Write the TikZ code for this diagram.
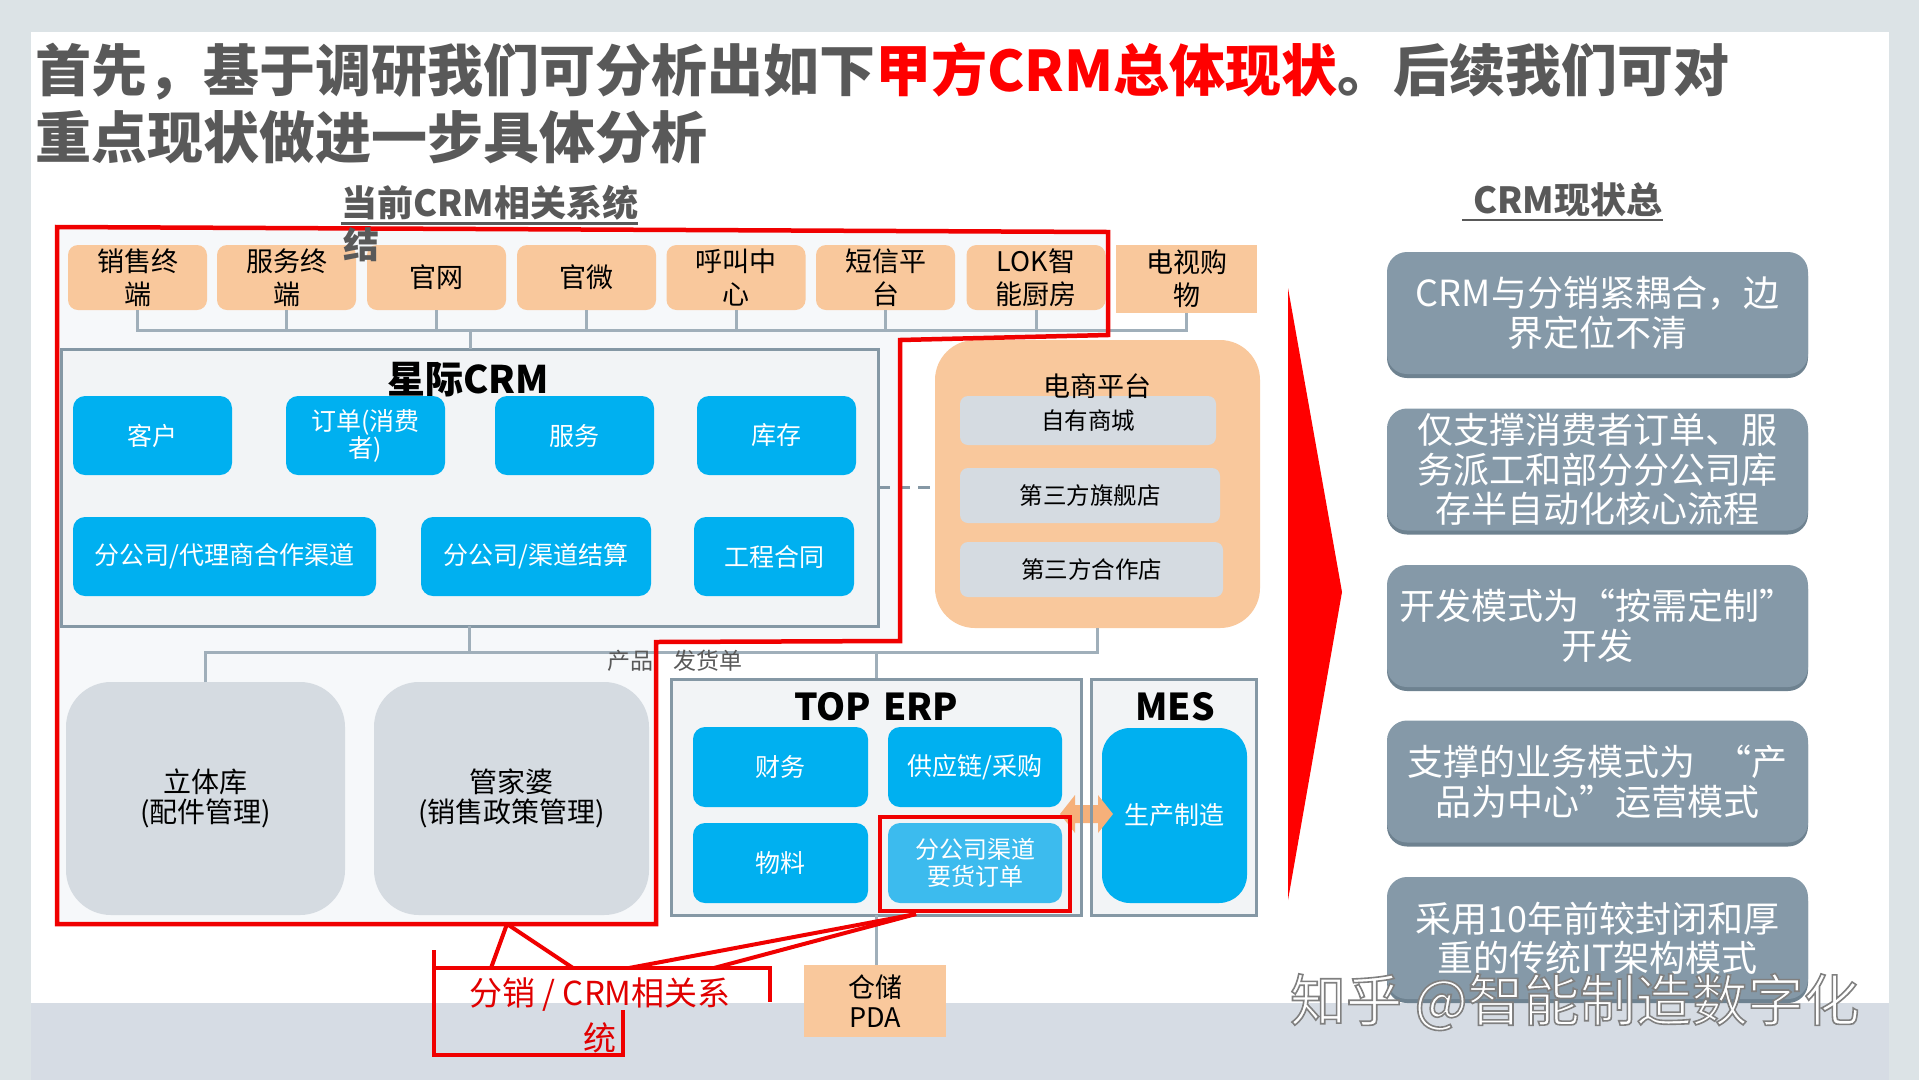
\documentclass[tikz,border=0pt]{standalone}
\usepackage{fontspec}
\setmainfont{Noto Sans CJK SC}
\usetikzlibrary{calc,shadows}
\definecolor{bgside}{HTML}{DCE3E6}
\definecolor{band}{HTML}{D6DCE4}
\definecolor{areafill}{HTML}{F6F8FA}
\definecolor{titlegray}{HTML}{595959}
\definecolor{redc}{HTML}{F00000}
\definecolor{brightred}{HTML}{FF0000}
\definecolor{peach}{HTML}{F9C89C}
\definecolor{skyb}{HTML}{00B0F0}
\definecolor{skyl}{HTML}{3CBBEE}
\definecolor{panel}{HTML}{F2F4F6}
\definecolor{panelb}{HTML}{8598A5}
\definecolor{conn}{HTML}{A0AFBA}
\definecolor{lgray}{HTML}{D5DBE1}
\definecolor{slate}{HTML}{8599A8}
\definecolor{slated}{HTML}{6E8290}
\definecolor{arrowor}{HTML}{F6B07A}
\definecolor{lblred}{HTML}{E00000}
\newcommand\fsz[2]{\fontsize{#1}{#2}\selectfont}
\begin{document}
\begin{tikzpicture}[x=1pt,y=-1pt,
  every node/.style={inner sep=0pt, outer sep=0pt, align=center},
  topbox/.style={fill=peach, rounded corners=10pt, minimum width=139pt, minimum height=65pt, font=\fsz{27}{33}, text=black},
  bluebox/.style={fill=skyb, rounded corners=12pt, font=\fsz{25}{27}, text=white},
  panelbox/.style={fill=panel, draw=panelb, line width=3pt},
  graybox/.style={fill=lgray, rounded corners=45pt, font=\fsz{28}{30}, text=black},
  shopbox/.style={fill=lgray, rounded corners=8pt, font=\fsz{23.5}{28}, text=black},
  sumbox/.style={fill=slate, rounded corners=20pt, minimum width=421pt, minimum height=122pt, font=\fsz{36}{39.5}, text=white,
     drop shadow={shadow xshift=0pt, shadow yshift=-4pt, fill=slated, opacity=1}},
  connector/.style={draw=conn, line width=3pt},
  redline/.style={draw=redc, line width=4.5pt, line join=miter},
  hdr/.style={font=\bfseries\fsz{36}{40}, text=titlegray},
  boxtitle/.style={font=\bfseries\fsz{37}{40}, text=black}
]
\useasboundingbox (0,0) rectangle (1919,1080);
% background
\fill[bgside] (0,0) rectangle (1919,1080);
\fill[white] (31,32) rectangle (1889,1003);
\fill[band] (31,1003) rectangle (1889,1080);

% red region coordinates
\coordinate (r1) at (57,227);
\coordinate (r2) at (1108,232);
\coordinate (r3) at (1108,335);
\coordinate (r4) at (900,340);
\coordinate (r5) at (900,641);
\coordinate (r6) at (656,642);
\coordinate (r7) at (656,924);
\coordinate (r8) at (57,924);
\fill[areafill] (r1)--(r2)--(r3)--(r4)--(r5)--(r6)--(r7)--(r8)--cycle;

% title
\node[anchor=west, align=left, font=\bfseries\fsz{56}{67}, text=titlegray] (title) at (35,103)
  {首先，基于调研我们可分析出如下\textcolor{brightred}{甲方CRM总体现状}。后续我们可对\\重点现状做进一步具体分析};

% headers
\node[hdr, anchor=west] (hdrL) at (341,203) {当前CRM相关系统};
\draw[titlegray, line width=2.5pt] ($(hdrL.south west)+(0,3)$) -- ($(hdrL.south east)+(0,3)$);
\node[hdr] (hdrR) at (1568,200) {CRM现状总};
\draw[titlegray, line width=2.5pt] ($(hdrR.south west)+(-11,3)$) -- ($(hdrR.south east)+(0,3)$);

% top row
\node[topbox] (t1) at (137.5,277.5) {销售终\\端};
\node[topbox] (t2) at (286.5,277.5) {服务终\\端};
\node[topbox] (t3) at (436.5,277.5) {官网};
\node[topbox] (t4) at (586.5,277.5) {官微};
\node[topbox] (t5) at (736,277.5) {呼叫中\\心};
\node[topbox] (t6) at (885.5,277.5) {短信平\\台};
\node[topbox] (t7) at (1036,277.5) {LOK智\\能厨房};
\node[topbox, rounded corners=0pt, minimum width=141pt, minimum height=68pt] (t8) at (1186.5,279) {电视购\\物};

\coordinate (busj) at (470,330);
\draw[connector] (t1.south) -- (t1.south |- busj) -- (t8.south |- busj) -- (t8.south);
\foreach \n in {t2,t3,t4,t5,t6,t7} \draw[connector] (\n.south) -- (\n.south |- busj);

% CRM panel
\node[panelbox, minimum width=817pt, minimum height=277pt] (crm) at (469.5,487.5) {};
\draw[connector] (busj) -- (busj |- crm.north);
\node[boxtitle, font=\bfseries\fsz{38}{40}] (crmT) at (468,380) {星际CRM};
\node[bluebox, minimum width=159pt, minimum height=79pt] (kh) at (152.5,435.5) {客户};
\node[bluebox, minimum width=159pt, minimum height=79pt] (dd) at (365.5,435.5) {订单(消费\\者)};
\node[bluebox, minimum width=159pt, minimum height=79pt] (fw) at (574.5,435.5) {服务};
\node[bluebox, minimum width=159pt, minimum height=79pt] (kc) at (776.5,435.5) {库存};
\node[bluebox, minimum width=303pt, minimum height=79pt] (qd) at (224.5,556.5) {分公司/代理商合作渠道};
\node[bluebox, minimum width=230pt, minimum height=79pt] (js) at (536,556.5) {分公司/渠道结算};
\node[bluebox, minimum width=160pt, minimum height=79pt] (gc) at (774,556.5) {工程合同};

% e-commerce
\node[fill=peach, rounded corners=40pt, minimum width=325pt, minimum height=288pt] (ecom) at (1097.5,484) {};
\draw[draw=panelb, line width=2.5pt, dashed, dash pattern=on 12pt off 8pt] (crm.east) -- (crm.east -| ecom.west);
\node[shopbox, minimum width=256pt, minimum height=49pt] (s1) at (1088,420.5) {自有商城};
\node[shopbox, minimum width=260pt, minimum height=55pt] (s2) at (1090,495.5) {第三方旗舰店};
\node[shopbox, minimum width=263pt, minimum height=55pt] (s3) at (1091.5,569.5) {第三方合作店};
\node[font=\fsz{27}{30}, text=black] (ecomT) at (1097,386) {电商平台};

% lower left boxes
\node[graybox, minimum width=279pt, minimum height=233pt] (lt) at (205.5,798.5) {立体库\\(配件管理)};
\node[graybox, minimum width=275pt, minimum height=233pt] (gjp) at (511.5,798.5) {管家婆\\(销售政策管理)};

% ERP & MES fills
\node[fill=panel, minimum width=410pt, minimum height=236pt] (erp) at (876,797) {};
\node[fill=panel, minimum width=165pt, minimum height=236pt] (mes) at (1173.5,797) {};

% lower connectors
\coordinate (bus2) at (468,652);
\draw[connector] (crm.south) -- (crm.south |- bus2);
\draw[connector] (lt.north) -- (lt.north |- bus2) -- (ecom.south |- bus2) -- (ecom.south);
\draw[connector] (erp.north) -- (erp.north |- bus2);
\node[font=\fsz{23}{26}, text=titlegray] (pf) at (675,661) {产品\hspace{20pt}发货单};

\node[boxtitle] (erpT) at (876,707) {TOP\hspace{12pt}ERP};
\node[boxtitle] (mesT) at (1175,707) {MES};
\node[bluebox, minimum width=175pt, minimum height=80pt] (cw) at (780.5,767) {财务};
\node[bluebox, minimum width=174pt, minimum height=80pt] (gyl) at (975,767) {供应链/采购};
\node[bluebox, minimum width=175pt, minimum height=80pt] (wl) at (780.5,863) {物料};
\node[bluebox, fill=skyl, font=\fsz{24}{27}, minimum width=174pt, minimum height=80pt] (ord) at (975,863) {分公司渠道\\要货订单};
\node[bluebox, rounded corners=28pt, minimum width=145pt, minimum height=175pt] (sc) at (1174.5,815.5) {生产制造};

% orange double arrow
\fill[arrowor] (1060,814) -- (1075,795) -- (1075,805) -- (1098,805) -- (1098,795) -- (1113,814)
  -- (1098,833) -- (1098,823) -- (1075,823) -- (1075,833) -- cycle;
\draw[panelb, line width=3pt] (erp.north west) rectangle (erp.south east);
\draw[panelb, line width=3pt] (mes.north west) rectangle (mes.south east);

% PDA
\node[fill=peach, minimum width=142pt, minimum height=72pt, font=\fsz{27}{30}, text=black] (pda) at (875,1001) {仓储\\PDA};
\draw[connector] (erp.south) -- (erp.south |- pda.north);

% red outlines
\draw[redline] (r1)--(r2)--(r3)--(r4)--(r5)--(r6)--(r7)--(r8)--cycle;
\draw[redline] ($(ord.north west)+(-8,-6)$) rectangle ($(ord.south east)+(8,8)$);
\node[hdr] (hdrL2) at (361,245) {结};

% callout
\coordinate (cApex) at (507,924);
\coordinate (cL1) at (491,968);
\coordinate (cL2) at (573,968);
\coordinate (cS) at (916,914);
\coordinate (cR1) at (629,968);
\coordinate (cR2) at (714,968);
\coordinate (bTL) at (434,968);
\coordinate (bTR) at (770,968);
\draw[redline, line width=4pt] (cApex) -- (cL1);
\draw[redline, line width=4pt] (cApex) -- (cL2);
\draw[redline, line width=4pt] (cS) -- (cR1);
\draw[redline, line width=4pt] (cS) -- (cR2);
\draw[redline, line width=4pt] (434,950) -- (434,1057);
\draw[redline, line width=4pt] (bTL) -- (bTR) -- (770,1002);
\draw[redline, line width=4pt] (434,1055) -- (623,1055);
\draw[redline, line width=4pt] (623,1010) -- (623,1057);
\node[font=\fsz{33}{45}, text=lblred] (lbl) at (600,1015.5) {分销 / CRM相关系\\统};

% big red arrow
\fill[brightred] (1288,288) -- (1342,592) -- (1288,900) -- cycle;

% summary boxes
\node[sumbox] (b1) at (1597.5,313) {CRM与分销紧耦合，边\\界定位不清};
\node[sumbox] (b2) at (1597.5,469.5) {仅支撑消费者订单、服\\务派工和部分分公司库\\存半自动化核心流程};
\node[sumbox] (b3) at (1597.5,626) {开发模式为“按需定制”\\开发};
\node[sumbox] (b4) at (1597.5,781.5) {支撑的业务模式为\hspace{20pt}“产\\品为中心”运营模式};
\node[sumbox] (b5) at (1597.5,938) {采用10年前较封闭和厚\\重的传统IT架构模式};

% watermark
\node[anchor=west, font=\fsz{56}{60}, text=white] (wm) at (1290,1002)
  {\special{pdf:literal direct 2 Tr 1.6 w 0.5 0.5 0.5 RG}知乎 @智能制造数字化\special{pdf:literal direct 0 Tr}};
\end{tikzpicture}
\end{document}
